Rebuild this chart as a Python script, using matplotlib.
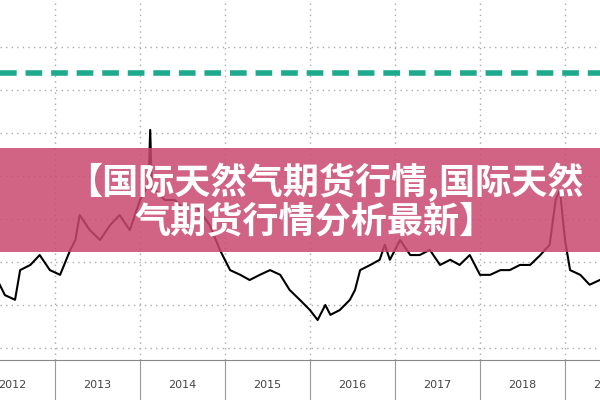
import matplotlib
matplotlib.use("Agg")
import matplotlib.pyplot as plt
from matplotlib.patches import Rectangle

dates = [2012.35,2012.41,2012.53,2012.59,2012.71,2012.82,2012.94,2013.06,2013.18,2013.24,2013.29,2013.41,2013.53,2013.65,2013.76,2013.88,2014.0,2014.10,2014.12,2014.14,2014.18,2014.29,2014.41,2014.53,2014.65,2014.82,2014.94,2015.06,2015.18,2015.29,2015.41,2015.53,2015.65,2015.76,2015.88,2016.0,2016.09,2016.18,2016.24,2016.35,2016.47,2016.53,2016.59,2016.71,2016.82,2016.88,2016.94,2017.0,2017.06,2017.18,2017.29,2017.41,2017.53,2017.65,2017.76,2017.88,2018.0,2018.12,2018.24,2018.35,2018.47,2018.59,2018.71,2018.82,2018.89,2018.94,2019.0,2019.06,2019.18,2019.29,2019.41]
prices = [24.7,22.3,21.2,28.1,29.3,31.6,28.1,27.0,32.8,35.1,40.9,37.4,35.1,38.6,40.9,37.4,44.4,48.0,60.7,47.0,46.7,44.4,44.4,42.1,43.3,38.6,32.8,28.1,27.0,25.8,27.0,28.1,27.0,23.5,21.2,18.8,16.5,20.0,17.7,18.8,21.2,23.5,28.1,29.3,30.5,34.0,30.5,32.8,35.1,31.6,31.6,32.8,29.3,30.5,29.3,31.6,27.0,27.0,28.1,28.1,29.3,29.3,31.6,34.0,44.4,46.7,35.1,28.1,27.0,24.7,25.8]
ref_level = 74.0
year_labels = ["2012","2013","2014","2015","2016","2017","2018","2019"]
year_pos = [2012.5,2013.5,2014.5,2015.5,2016.5,2017.5,2018.5,2019.5]
year_bounds = [2013,2014,2015,2016,2017,2018,2019]
grid_levels = [10,20,30,40,50,60,70,80]

fig = plt.figure(figsize=(6,4), dpi=100)
ax = fig.add_axes([0,0.1,1,0.9])
ax.set_xlim(2012.353, 2019.412)
ax.set_ylim(7.2, 90.9)
for g in grid_levels:
    ax.axhline(g, color="#aaaaaa", lw=1, ls=(0,(1,3)), zorder=0)
for b in year_bounds:
    ax.axvline(b, color="#aaaaaa", lw=1, ls=(0,(1,3)), zorder=0)
ax.axhline(ref_level, color="#1eaa8c", lw=4, ls=(0,(3,1.6)))
ax.plot(dates, prices, color="black", lw=1.5)
for s in ["top","right","left"]:
    ax.spines[s].set_visible(False)
ax.spines["bottom"].set_color("#888888")
ax.set_yticks([])
ax.set_xticks(year_bounds)
ax.set_xticklabels([])
ax.tick_params(axis="x", length=30, color="#999999")
for p, l in zip(year_pos, year_labels):
    ax.text(p, -0.07, l, transform=ax.get_xaxis_transform(), ha="center", va="center", fontsize=8, color="#444444")

fig.patches.append(Rectangle((0, 1-252/400), 1, 104/400, transform=fig.transFigure,
                             facecolor="#c9496e", alpha=0.85, zorder=5))
fam = ["Noto Sans CJK SC", "DejaVu Sans"]
fig.text(325/600, 1-182/400, "【国际天然气期货行情,国际天然", ha="center", va="center",
         fontsize=26, fontweight="bold", color="white", family=fam, zorder=6)
fig.text(135/600, 1-222/400, "气期货行情分析最新】", ha="left", va="center",
         fontsize=26, fontweight="bold", color="white", family=fam, zorder=6)
fig.savefig("out.png", dpi=100)
